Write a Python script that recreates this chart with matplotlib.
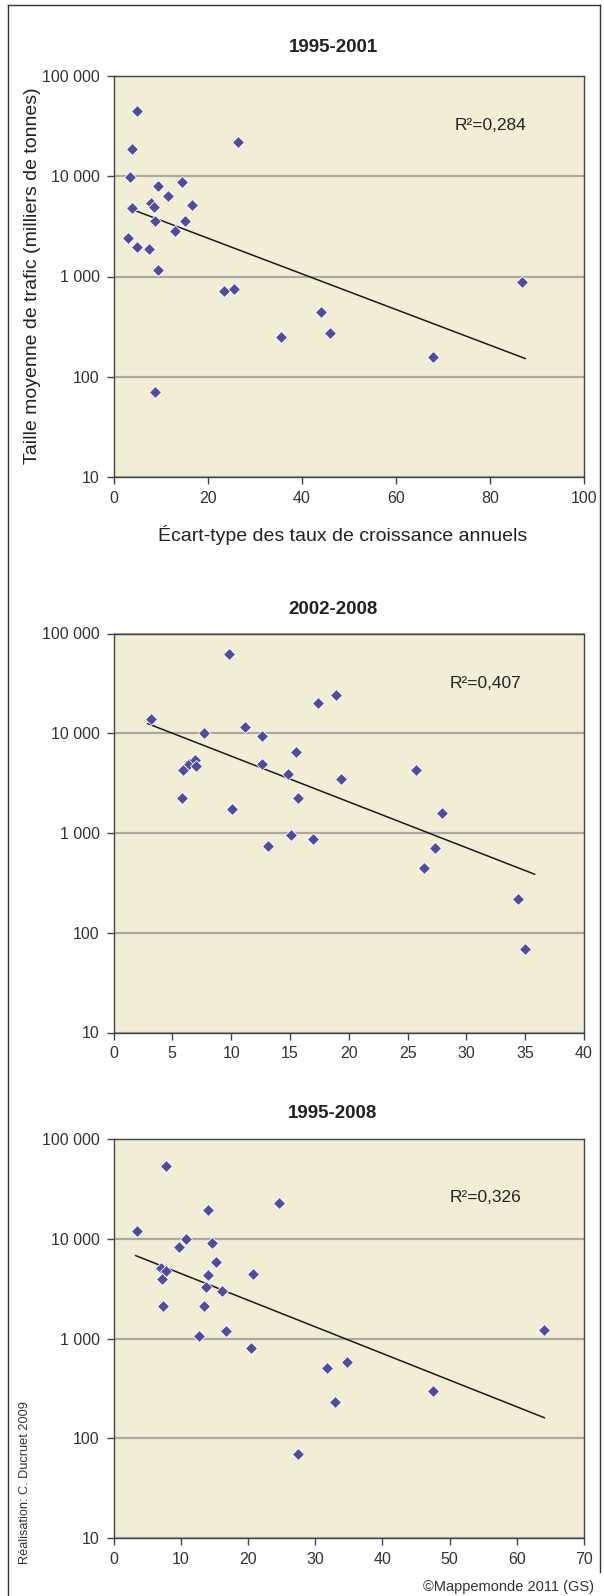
import numpy as np
import matplotlib
matplotlib.use("Agg")
import matplotlib.pyplot as plt
from matplotlib.ticker import FuncFormatter, FixedLocator, NullLocator
from matplotlib.lines import Line2D

plt.rcParams['font.family'] = ['Liberation Sans', 'DejaVu Sans']

# Donnees (ecart-type, taille moyenne)
titres = ["1995-2001", "2002-2008", "1995-2008"]
r2_textes = ["R²=0,284", "R²=0,407", "R²=0,326"]

p1_x = [5.0, 3.9, 3.6, 26.5, 9.4, 14.6, 11.6, 8.0, 8.6, 3.9, 16.6, 8.8, 15.3,
        13.1, 3.1, 5.0, 7.5, 9.4, 23.4, 25.7, 35.6, 8.9, 86.8, 44.0, 46.1, 67.9]
p1_y = [45100, 18500, 9900, 22100, 8040, 8750, 6300, 5450, 4960, 4850, 5160,
        3570, 3570, 2820, 2430, 1980, 1900, 1150, 715, 754, 252, 71, 885, 441,
        274, 158]

p2_x = [3.2, 9.8, 7.7, 11.2, 12.6, 17.4, 18.9, 15.5, 5.9, 6.4, 6.9, 7.0, 12.65,
        14.8, 19.3, 5.85, 15.7, 10.1, 15.1, 13.1, 17.0, 25.7, 27.9, 27.3, 26.4,
        34.4, 35.0]
p2_y = [13800, 61900, 10100, 11500, 9330, 20300, 24400, 6500, 4260, 4920, 5400,
        4660, 4950, 3910, 3460, 2260, 2260, 1730, 950, 743, 873, 4260, 1580, 705,
        447, 217, 69]

p3_x = [7.8, 3.45, 14.0, 24.6, 10.8, 9.8, 14.7, 15.3, 7.0, 7.8, 7.2, 14.0, 20.8,
        13.7, 16.1, 7.4, 13.5, 16.8, 12.7, 20.5, 64.0, 34.7, 31.8, 33.0, 47.6, 27.5]
p3_y = [53500, 12000, 19400, 23100, 10000, 8310, 9120, 5840, 5120, 4810, 3950,
        4350, 4490, 3300, 3030, 2130, 2140, 1200, 1060, 807, 1230, 588, 505, 230,
        301, 69]

# droites de tendance (extremites)
t1_x = [3.0, 87.5]
t1_y = [4850, 152]
t2_x = [2.9, 35.8]
t2_y = [12500, 386]
t3_x = [3.3, 64.1]
t3_y = [6810, 161]

x_max = [100, 40, 70]
x_pas = [20, 5, 10]
y_ticks = [10, 100, 1000, 10000, 100000]

W, H = 604, 1596
fig = plt.figure(figsize=(W / 100, H / 100), dpi=100)

def rect(x0, y0, x1, y1):
    # coordonnees pixels (origine en haut a gauche) -> fraction de figure
    return [x0 / W, 1 - y1 / H, (x1 - x0) / W, (y1 - y0) / H]

boites = [(113.5, 76, 584, 477), (113.5, 633.5, 584, 1032.5), (113.5, 1139.3, 584, 1538)]
titre_y = [48, 609, 1113]
r2_pos = [(0.802, 0.876), (0.791, 0.875), (0.791, 0.854)]

def fmt(v, pos):
    return "{:,}".format(int(round(v))).replace(",", " ")

series = [(p1_x, p1_y, t1_x, t1_y), (p2_x, p2_y, t2_x, t2_y), (p3_x, p3_y, t3_x, t3_y)]

for i in range(3):
    ax = fig.add_axes(rect(*boites[i]))
    xs, ys, tx, ty = series[i]
    ax.set_facecolor('#f2eed6')
    ax.set_yscale('log')
    ax.set_ylim(10, 100000)
    ax.set_xlim(0, x_max[i])
    ax.yaxis.set_major_locator(FixedLocator(y_ticks))
    ax.yaxis.set_minor_locator(NullLocator())
    ax.yaxis.set_major_formatter(FuncFormatter(fmt))
    ax.set_xticks(np.arange(0, x_max[i] + 1, x_pas[i]))
    ax.grid(True, axis='y', color='#aaa99f', lw=1.6)
    ax.set_axisbelow(True)
    for s in ax.spines.values():
        s.set_color('#444444')
        s.set_linewidth(1.0)
    ax.tick_params(axis='both', direction='out', length=5, width=1, color='#444444',
                   labelsize=11.5, labelcolor='#333333', pad=5)
    ax.plot(tx, ty, color='#1a1a1a', lw=1.1, zorder=3)
    ax.plot(xs, ys, 'D', ms=6.3, mfc='#4f4ba3', mec='white', mew=0.6, zorder=4,
            clip_on=False)
    ax.text(r2_pos[i][0], r2_pos[i][1], r2_textes[i], transform=ax.transAxes,
            ha='center', va='center', fontsize=12.5, color='#222222')
    fig.text(333 / W, 1 - titre_y[i] / H, titres[i], ha='center', va='center',
             fontsize=13.5, fontweight='bold', color='#222222')

fig.text(33 / W, 1 - 276 / H, "Taille moyenne de trafic (milliers de tonnes)",
         rotation=90, ha='center', va='center', fontsize=14, color='#222222')
fig.text(343 / W, 1 - 535 / H, "Écart-type des taux de croissance annuels",
         ha='center', va='center', fontsize=14, color='#222222')

fig.text(25 / W, 1 - 1483 / H, "Réalisation: C. Ducruet 2009", rotation=90,
         ha='center', va='center', fontsize=9.2, color='#333333')
fig.text(594 / W, 1 - 1587 / H, "©Mappemonde 2011 (GS)", ha='right', va='center',
         fontsize=10.5, color='#333333')

# cadre exterieur
cadre = [((8, 8), (5, H)), ((8, 600), (5, 5)), ((600, 600), (5, 1572))]
for (xx, yy) in cadre:
    fig.add_artist(Line2D([x / W for x in xx], [1 - y / H for y in yy],
                          color='#333333', lw=1.0))

fig.savefig("out.png", dpi=100)
